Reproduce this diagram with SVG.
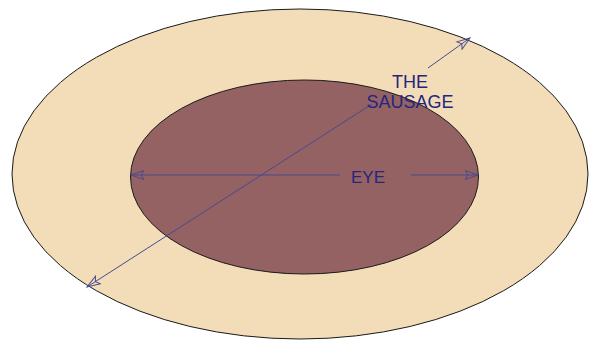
<svg xmlns="http://www.w3.org/2000/svg" width="589" height="340" viewBox="0 0 589 340">
<style>
.conn{stroke:#4a4a90;stroke-width:1;fill:none}
.lbl{font-family:"Liberation Sans",Arial,sans-serif;font-size:17px;fill:#25257f;text-anchor:middle}
.big{font-size:18px}
</style>
<defs>
<marker id="ah" viewBox="-1 -6 16 12" markerWidth="16" markerHeight="12" refX="13" refY="0" orient="auto" markerUnits="userSpaceOnUse">
<path d="M0,-4.5 L13,0 L0,4.5 L3,0 Z" fill="none" stroke="#4a4a90" stroke-width="1"/>
</marker>
</defs>
<rect width="589" height="340" fill="#ffffff"/>
<g id="sausage">
<ellipse cx="300" cy="174" rx="288" ry="165" fill="#f2ddb8" stroke="#1a1a1a" stroke-width="1"/>
</g>
<g id="eye">
<ellipse cx="304.5" cy="177" rx="174" ry="97" fill="#946262" stroke="#1a1a1a" stroke-width="1"/>
</g>
<g id="connectors">
<line class="conn" x1="340" y1="175" x2="131" y2="175" marker-end="url(#ah)"/>
<line class="conn" x1="411" y1="175" x2="478" y2="175" marker-end="url(#ah)"/>
<line class="conn" x1="372" y1="104" x2="87" y2="287" marker-end="url(#ah)"/>
<line class="conn" x1="428" y1="68" x2="470" y2="38" marker-end="url(#ah)"/>
</g>
<g id="labels">
<text class="lbl" x="368" y="183">EYE</text>
<text class="lbl big" x="410" y="88">THE</text>
<text class="lbl big" x="410" y="108">SAUSAGE</text>
</g>
</svg>
